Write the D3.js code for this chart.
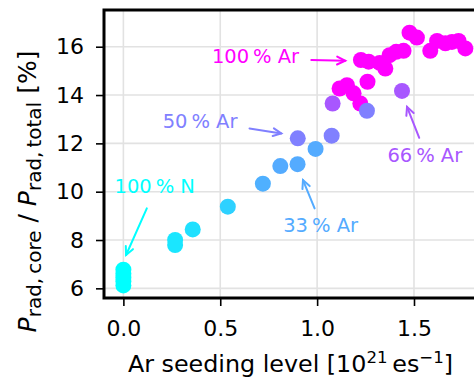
<!DOCTYPE html>
<html>
<head>
<meta charset="utf-8">
<script src="https://cdn.jsdelivr.net/npm/d3@7"></script>
<style>
  body { margin: 0; background: #fff; }
  text { font-family: "DejaVu Sans", sans-serif; }
</style>
</head>
<body>
<script>
// Ar seeding level [1e21 e/s], core radiated fraction [%], Ar fraction of the seed mix
const seeding = [0, 0, 0, 0, 0,
    0.267, 0.267, 0.358, 0.539, 0.72, 0.81, 0.899, 0.992,
    0.90, 1.075, 1.257,
    1.08, 1.438,
    1.116, 1.154, 1.188, 1.223, 1.26, 1.226, 1.266, 1.323, 1.352, 1.374,
    1.408, 1.446, 1.477, 1.515, 1.584, 1.619, 1.662, 1.696, 1.73, 1.765];
const corePct = [6.12, 6.28, 6.44, 6.6, 6.77,
    8.0, 7.79, 8.44, 9.38, 10.33, 11.06, 11.14, 11.77,
    12.21, 12.32, 13.35,
    13.65, 14.17,
    14.27, 14.41, 14.07, 13.65, 14.55, 15.45, 15.38, 15.33, 15.10, 15.65,
    15.79, 15.83, 16.58, 16.38, 15.83, 16.24, 16.14, 16.2, 16.24, 15.93];
const arFraction = [0, 0, 0, 0, 0,
    0.1, 0.1, 0.12, 0.18, 0.31, 0.33, 0.33, 0.33,
    0.5, 0.5, 0.5,
    0.66, 0.66,
    1, 1, 1, 1, 1, 1, 1, 1, 1, 1,
    1, 1, 1, 1, 1, 1, 1, 1, 1, 1];

const xTicks = [0, 0.5, 1.0, 1.5];
const yTicks = [6, 8, 10, 12, 14, 16];

// annotation labels
const annLabels = ["100\u2009% N", "33\u2009% Ar", "50\u2009% Ar", "66\u2009% Ar", "100\u2009% Ar"];
const annFrac = [0, 0.33, 0.5, 0.66, 1];
// text anchor (data coords) and arrow tail/head (data coords)
const annText = [[0.162, 9.93], [1.018, 8.32], [0.396, 12.62], [1.556, 11.24], [0.682, 15.31]];
const annTail = [[0.121, 9.31], [0.987, 9.31], [0.651, 12.62], [1.527, 12.23], [0.970, 15.45]];
const annHead = [[0.014, 7.38], [0.927, 10.48], [0.815, 12.41], [1.464, 13.51], [1.145, 15.42]];

const W = 474, H = 378;
const mLeft = 104, mTop = 10, mRight = 476, mBottom = 298;

// matplotlib "cool" colormap
const cool = f => d3.rgb(Math.round(255 * f), Math.round(255 * (1 - f)), 255).formatHex();

const svg = d3.select('body').append('svg')
    .attr('width', W)
    .attr('height', H);

const x = d3.scaleLinear().domain([-0.1, 1.82]).range([mLeft, mRight]);
const y = d3.scaleLinear().domain([5.6, 17.52]).range([mBottom, mTop]);

// grid
svg.append('g').selectAll('line').data(xTicks).join('line')
    .attr('x1', d => x(d)).attr('x2', d => x(d))
    .attr('y1', mTop).attr('y2', mBottom)
    .attr('stroke', '#e2e2e2').attr('stroke-width', 1.6);
svg.append('g').selectAll('line').data(yTicks).join('line')
    .attr('x1', mLeft).attr('x2', mRight)
    .attr('y1', d => y(d)).attr('y2', d => y(d))
    .attr('stroke', '#e2e2e2').attr('stroke-width', 1.6);

// points, magenta first so the mixed seeds sit on top
const points = seeding.map((s, i) => ({ s: s, c: corePct[i], f: arFraction[i] }))
    .sort((a, b) => b.f - a.f);

svg.append('g').selectAll('circle').data(points).join('circle')
    .attr('cx', d => x(d.s))
    .attr('cy', d => y(d.c))
    .attr('r', 8)
    .attr('fill', d => cool(d.f));

// axes
const xAxis = svg.append('g')
    .attr('transform', `translate(0,${mBottom})`)
    .call(d3.axisBottom(x).tickValues(xTicks).tickFormat(d3.format('.1f')).tickSize(8).tickSizeOuter(0).tickPadding(14));
const yAxis = svg.append('g')
    .attr('transform', `translate(${mLeft},0)`)
    .call(d3.axisLeft(y).tickValues(yTicks).tickSize(8).tickSizeOuter(0).tickPadding(12));

[xAxis, yAxis].forEach(a => {
    a.select('.domain').remove();
    a.selectAll('line').attr('stroke', '#000').attr('stroke-width', 1.6);
    a.selectAll('text').attr('fill', '#000').style('font-size', '22px')
        .style('font-family', '"DejaVu Sans", sans-serif');
});

// spines
svg.append('rect')
    .attr('x', mLeft).attr('y', mTop)
    .attr('width', mRight - mLeft).attr('height', mBottom - mTop)
    .attr('fill', 'none').attr('stroke', '#000').attr('stroke-width', 3);

// annotations
annLabels.forEach((lab, i) => {
    const col = cool(annFrac[i]);
    svg.append('text')
        .attr('x', x(annText[i][0])).attr('y', y(annText[i][1]))
        .attr('text-anchor', 'middle')
        .style('font-size', '19.5px')
        .attr('fill', col)
        .text(lab);

    const x1 = x(annTail[i][0]), y1 = y(annTail[i][1]);
    const x2 = x(annHead[i][0]), y2 = y(annHead[i][1]);
    const ang = Math.atan2(y2 - y1, x2 - x1);
    const hl = 9, ha = 0.45;
    const g = svg.append('g').attr('stroke', col).attr('stroke-width', 2).attr('fill', 'none')
        .attr('stroke-linecap', 'round');
    g.append('line').attr('x1', x1).attr('y1', y1).attr('x2', x2).attr('y2', y2);
    g.append('path').attr('d',
        `M${x2 - hl * Math.cos(ang - ha)},${y2 - hl * Math.sin(ang - ha)}L${x2},${y2}L${x2 - hl * Math.cos(ang + ha)},${y2 - hl * Math.sin(ang + ha)}`);
});

// axis labels
const xl = svg.append('text')
    .attr('x', 290.5).attr('y', 371.7)
    .attr('text-anchor', 'middle')
    .style('font-size', '23.8px');
xl.append('tspan').text('Ar seeding level [10');
xl.append('tspan').attr('dy', -9).style('font-size', '16.6px').text('21');
xl.append('tspan').attr('dy', 9).text('\u2009es');
xl.append('tspan').attr('dy', -9).style('font-size', '16.6px').text('\u22121');
xl.append('tspan').attr('dy', 9).text(']');

const yl = svg.append('text')
    .attr('transform', 'translate(36,191.5) rotate(-90)')
    .attr('text-anchor', 'middle')
    .style('font-size', '25px');
yl.append('tspan').style('font-style', 'italic').text('P');
yl.append('tspan').attr('dy', 5).style('font-size', '20px').text('rad,\u2009core');
yl.append('tspan').attr('dy', -5).text(' / ');
yl.append('tspan').style('font-style', 'italic').text('P');
yl.append('tspan').attr('dy', 5).style('font-size', '20px').text('rad,\u2009total');
yl.append('tspan').attr('dy', -5).text(' [%]');
</script>
</body>
</html>
